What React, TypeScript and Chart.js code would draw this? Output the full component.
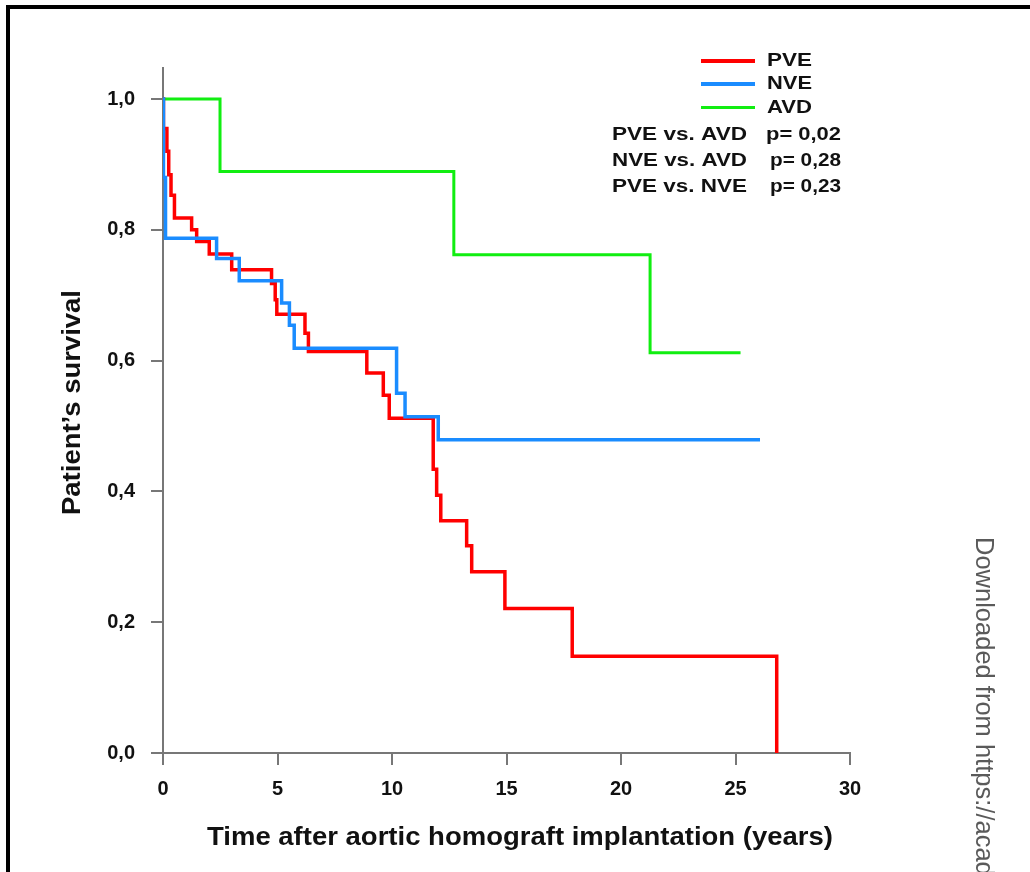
import React, { useEffect, useRef } from "react";
import { Chart, registerables } from "chart.js";

Chart.register(...registerables);

// ---- Data (years after implantation, Kaplan-Meier survival) ----
const pveTime = [0, 0.02, 0.17, 0.25, 0.35, 0.5, 1.25, 1.47, 2.02, 3.0, 4.74, 4.9, 4.97, 6.2, 6.35, 8.9, 9.62, 9.88, 11.8, 11.95, 12.13, 13.26, 13.48, 14.93, 17.87, 26.8];
const pveSurv = [1.0, 0.955, 0.92, 0.884, 0.853, 0.818, 0.8, 0.782, 0.763, 0.739, 0.718, 0.693, 0.671, 0.642, 0.614, 0.581, 0.547, 0.512, 0.434, 0.394, 0.355, 0.317, 0.277, 0.221, 0.148, 0.0];

const nveTime = [0, 0.02, 0.11, 2.34, 3.33, 5.18, 5.52, 5.73, 10.2, 10.57, 12.02, 26.07];
const nveSurv = [1.0, 0.88, 0.787, 0.756, 0.722, 0.688, 0.654, 0.619, 0.55, 0.514, 0.479, 0.479];

const avdTime = [0, 2.49, 12.7, 21.27, 25.22];
const avdSurv = [1.0, 0.889, 0.762, 0.612, 0.612];

const seriesNames = ["PVE", "NVE", "AVD"];
const seriesColors = ["#ff0000", "#1a8cff", "#11ee11"];

const yTicks = [0, 0.2, 0.4, 0.6, 0.8, 1.0];
const xTicks = [0, 5, 10, 15, 20, 25, 30];

const pLabels = ["PVE vs. AVD", "NVE vs. AVD", "PVE vs. NVE"];
const pValues = ["p= 0,02", "p= 0,28", "p= 0,23"];

const xTitle = "Time after aortic homograft implantation (years)";
const yTitle = "Patient\u2019s survival";
const watermark = "Downloaded from https://academic.oup.com";

const FONT = "'Liberation Sans', Arial, sans-serif";

function toPoints(t: number[], s: number[]) {
  return t.map((x, i) => ({ x, y: s[i] }));
}

function drawFitted(
  ctx: CanvasRenderingContext2D,
  text: string,
  x: number,
  y: number,
  targetW: number,
  font: string,
  color: string,
  rotation = 0
) {
  ctx.save();
  ctx.font = font;
  ctx.fillStyle = color;
  ctx.textBaseline = "middle";
  ctx.textAlign = "left";
  const w = ctx.measureText(text).width;
  ctx.translate(x, y);
  if (rotation) ctx.rotate(rotation);
  ctx.scale(targetW / w, 1);
  ctx.fillText(text, 0, 0);
  ctx.restore();
}

const decorPlugin = {
  id: "decor",
  beforeDraw(chart: any) {
    const ctx = chart.ctx as CanvasRenderingContext2D;
    ctx.save();
    ctx.fillStyle = "#ffffff";
    ctx.fillRect(0, 0, chart.width, chart.height);
    ctx.restore();
  },
  afterDraw(chart: any) {
    const ctx = chart.ctx as CanvasRenderingContext2D;
    // frame
    ctx.save();
    ctx.fillStyle = "#000000";
    ctx.fillRect(6, 5, 4, chart.height);
    ctx.fillRect(6, 5, chart.width, 4);
    ctx.restore();

    // legend
    const legendY = [61, 84, 107.5];
    const lineW = [4, 4, 3];
    seriesNames.forEach((name, i) => {
      ctx.save();
      ctx.strokeStyle = seriesColors[i];
      ctx.lineWidth = lineW[i];
      ctx.beginPath();
      ctx.moveTo(701, legendY[i]);
      ctx.lineTo(755, legendY[i]);
      ctx.stroke();
      ctx.restore();
      drawFitted(ctx, name, 767, legendY[i] + 0.5, 45, `bold 18px ${FONT}`, "#111");
    });

    // p values
    const pY = [135.5, 161.5, 187.5];
    const pX = [766, 770, 770];
    pLabels.forEach((lab, i) => {
      drawFitted(ctx, lab, 612, pY[i], 135, `bold 18px ${FONT}`, "#111");
      drawFitted(ctx, pValues[i], pX[i], pY[i], 841 - pX[i], `bold 18px ${FONT}`, "#111");
    });

    // axis titles
    drawFitted(ctx, xTitle, 207, 838, 626, `bold 26px ${FONT}`, "#111");
    drawFitted(ctx, yTitle, 73, 515, 225, `bold 25px ${FONT}`, "#111", -Math.PI / 2);

    // watermark
    ctx.save();
    ctx.font = `25.5px ${FONT}`;
    ctx.fillStyle = "#5a5a5a";
    ctx.textBaseline = "alphabetic";
    ctx.textAlign = "left";
    ctx.translate(976, 537);
    ctx.rotate(Math.PI / 2);
    ctx.fillText(watermark, 0, 0);
    ctx.restore();
  },
};

export default function App() {
  const ref = useRef<HTMLCanvasElement | null>(null);

  useEffect(() => {
    if (!ref.current) return;
    const chart = new Chart(ref.current, {
      type: "line",
      data: {
        datasets: [
          {
            label: seriesNames[0],
            data: toPoints(pveTime, pveSurv),
            borderColor: seriesColors[0],
            borderWidth: 3.5,
            stepped: "before",
            pointRadius: 0,
            fill: false,
            order: 1,
          },
          {
            label: seriesNames[1],
            data: toPoints(nveTime, nveSurv),
            borderColor: seriesColors[1],
            borderWidth: 3.5,
            stepped: "before",
            pointRadius: 0,
            fill: false,
            order: 0,
          },
          {
            label: seriesNames[2],
            data: toPoints(avdTime, avdSurv),
            borderColor: seriesColors[2],
            borderWidth: 3,
            stepped: "before",
            pointRadius: 0,
            fill: false,
            order: 2,
          },
        ],
      },
      options: {
        animation: false,
        responsive: false,
        devicePixelRatio: 1,
        layout: { padding: { left: 0, top: 68, right: 180, bottom: 0 } },
        plugins: {
          legend: { display: false },
          tooltip: { enabled: false },
          title: { display: false },
        },
        scales: {
          x: {
            type: "linear",
            min: 0,
            max: 30,
            afterFit: (s: any) => {
              s.height = 119;
            },
            afterBuildTicks: (s: any) => {
              s.ticks = xTicks.map((v) => ({ value: v }));
            },
            grid: {
              drawOnChartArea: false,
              drawTicks: true,
              tickLength: 12,
              color: "#777",
              lineWidth: 2,
            },
            border: { display: true, color: "#777", width: 2 },
            ticks: {
              padding: 12,
              color: "#111",
              font: { family: FONT, size: 20, weight: "bold" },
              maxRotation: 0,
            },
          },
          y: {
            type: "linear",
            min: 0,
            max: 1.0474,
            afterFit: (s: any) => {
              s.width = 163;
            },
            afterBuildTicks: (s: any) => {
              s.ticks = yTicks.map((v) => ({ value: v }));
            },
            grid: {
              drawOnChartArea: false,
              drawTicks: true,
              tickLength: 12,
              color: "#777",
              lineWidth: 2,
            },
            border: { display: true, color: "#777", width: 2 },
            ticks: {
              padding: 16,
              color: "#111",
              font: { family: FONT, size: 20, weight: "bold" },
              callback: (v: any) => Number(v).toFixed(1).replace(".", ","),
            },
          },
        },
      },
      plugins: [decorPlugin],
    } as any);
    return () => chart.destroy();
  }, []);

  return (
    <div style={{ position: "absolute", left: 0, top: 0, width: 1030, height: 872, overflow: "hidden", background: "#fff" }}>
      <canvas ref={ref} width={1030} height={872} style={{ display: "block", width: 1030, height: 872 }} />
    </div>
  );
}
